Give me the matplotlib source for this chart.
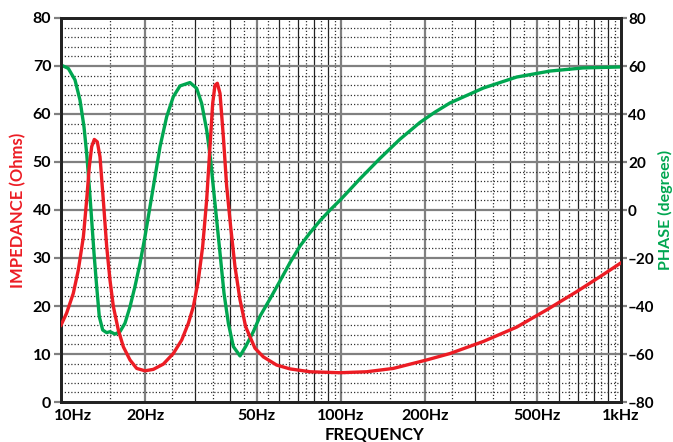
import numpy as np
import matplotlib.pyplot as plt
import matplotlib.transforms as mtransforms
from matplotlib.ticker import FixedLocator, NullFormatter

plt.rcParams['font.family'] = ['Lato', 'DejaVu Sans']
plt.rcParams['font.weight'] = 'bold'

# --- valores ---
imp_freq = [10, 10.47, 11.06, 11.53, 12.02, 12.35, 12.62, 12.87, 13.15, 13.48, 13.78,
            14.16, 14.56, 14.96, 15.38, 16.02, 16.70, 17.64, 18.63, 19.95, 21.37, 23.2,
            25.18, 26.98, 28.5, 29.7, 30.94, 32.06, 33.13, 34.05, 34.81, 35.48, 36.17,
            36.97, 38.0, 39.06, 40.36, 41.82, 43.58, 45.65, 47.3, 49.3, 52.8, 58.9,
            65.7, 77.5, 99.2, 123.5, 153.8, 202, 245, 322, 424, 543, 695, 841, 1000]
imp_ohms = [16.0, 18.5, 22.6, 27.5, 34.4, 42.1, 49, 53.2, 54.7, 54.2, 51.1,
            42.1, 32.4, 25.4, 19.9, 15.0, 11.5, 8.75, 7.0, 6.5, 6.8, 7.9,
            10.1, 12.9, 16.4, 19.9, 25.4, 32.4, 42.1, 53.2, 62.2, 66.0, 66.4,
            64.3, 55.3, 44.9, 36.5, 28.2, 21.3, 15.7, 13.6, 11.2, 9.4, 7.7,
            6.9, 6.3, 6.1, 6.3, 7.0, 8.75, 10.1, 12.6, 15.6, 19.2, 23.0, 26.1, 29.0]

ph_freq = [10, 10.62, 11.22, 11.69, 12.08, 12.35, 12.62, 12.87, 13.12, 13.41, 13.70,
           14.09, 14.56, 14.96, 15.59, 16.24, 16.92, 17.64, 18.37, 19.15, 19.95, 20.79,
           21.67, 22.58, 23.85, 25.18, 26.61, 28.88, 30.51, 31.80, 33.13, 34.23, 35.18,
           36.17, 37.18, 38.21, 39.60, 41.26, 43.58, 45.65, 48.63, 51.4, 55.8, 60.6,
           65.7, 71.4, 77.5, 84.1, 91.4, 100, 116.9, 137.8, 162.4, 191.5, 216.7, 245,
           322, 424, 558, 732, 1000]
ph_deg = [60.4, 59.0, 54.2, 45.8, 34.7, 23.6, 9.7, -4.2, -18.1, -31.9, -44.4,
          -50, -51.1, -50.7, -51.7, -50.7, -47.2, -40.3, -31.9, -22.2, -11.1, 1.4,
          13.9, 26.4, 38.9, 47.2, 51.7, 53.1, 50.7, 44.4, 33.3, 20.8, 6.9,
          -6.9, -20.8, -34.7, -47.2, -56.9, -60.8, -56.9, -50.7, -44.2, -37, -29.5,
          -22, -15, -9.5, -4.5, 0, 4.5, 13, 21.5, 29.5, 36.5, 40.8, 44.6,
          50.8, 55.4, 57.9, 59.2, 59.6]

x_ticks = [10, 20, 50, 100, 200, 500, 1000]
x_labels = ['10Hz', '20Hz', '50Hz', '100Hz', '200Hz', '500Hz', '1kHz']
imp_ticks = list(range(0, 81, 10))
ph_ticks = list(range(-80, 81, 20))

RED = '#ec1c24'
GREEN = '#00a650'

fig = plt.figure(figsize=(6.73, 4.42), dpi=100)
ax2 = fig.add_axes([61/673, 40/442, 560/673, 384/442])
ax = ax2.twinx()
# impedancia na frente, fase (com a grade) atras
ax.set_zorder(ax2.get_zorder() + 1)
ax.patch.set_visible(False)
ax.yaxis.tick_left()
ax2.yaxis.tick_right()

ax2.set_xscale('log')
ax2.set_xlim(10, 1000)
ax.set_ylim(0, 80)
ax2.set_ylim(-80, 80)

# grade vertical
for dec in [10, 100]:
    for m in range(1, 10):
        f = dec * m
        if 10 < f < 1000:
            if f in x_ticks:
                ax2.axvline(f, color='#808080', lw=1.6, zorder=1)
            else:
                ax2.axvline(f, color='#222222', lw=0.9, zorder=1)
        fh = dec * (m + 0.5)
        if fh < 1000:
            ax2.axvline(fh, color='#333333', lw=0.9, ls=(0, (1, 1.6)), zorder=1)

# grade horizontal (unidades de fase: 1 ohm = 2 graus)
for v in range(10, 80, 10):
    ax2.axhline(v * 2 - 80, color='#808080', lw=1.6, zorder=1)
for v in range(2, 80, 2):
    if v % 10:
        ax2.axhline(v * 2 - 80, color='#333333', lw=0.9, ls=(0, (1, 1.6)), zorder=1)

ax2.plot(ph_freq, ph_deg, color=GREEN, lw=2.4, zorder=3)
ax.plot(imp_freq, imp_ohms, color=RED, lw=2.4, zorder=3)

ax2.xaxis.set_major_locator(FixedLocator(x_ticks))
ax2.set_xticklabels(x_labels)
ax2.xaxis.set_minor_formatter(NullFormatter())
ax2.tick_params(axis='x', which='both', length=0, pad=5, labelsize=11.5)
# 10Hz um pouco para a direita, como no original
lbl0 = ax2.get_xticklabels()[0]
lbl0.set_transform(lbl0.get_transform() +
                   mtransforms.ScaledTranslation(12/100, 0, fig.dpi_scale_trans))

ax.set_yticks(imp_ticks)
ax2.set_yticks(ph_ticks)
ax2.set_yticklabels([('\u2013' + str(-t)) if t < 0 else str(t) for t in ph_ticks])
ax.tick_params(axis='y', length=5, width=1.6, color='#808080', pad=2, labelsize=11.5)
ax2.tick_params(axis='y', length=4, width=1.6, color='#808080', pad=1, labelsize=11)

for a in (ax, ax2):
    for s in a.spines.values():
        s.set_linewidth(2)
        s.set_color('#222222')

fig.text(18/673, 1 - 210/442, 'IMPEDANCE (Ohms)', color=RED, fontsize=12,
         fontweight='bold', rotation=90, ha='center', va='center')
fig.text(665/673, 1 - 210/442, 'PHASE (degrees)', color=GREEN, fontsize=11.5,
         fontweight='bold', rotation=90, ha='center', va='center')
fig.text(374/673, 1 - 435/442, 'FREQUENCY', ha='center', va='center',
         fontsize=12, fontweight='bold')

fig.savefig('out.png', dpi=100)
